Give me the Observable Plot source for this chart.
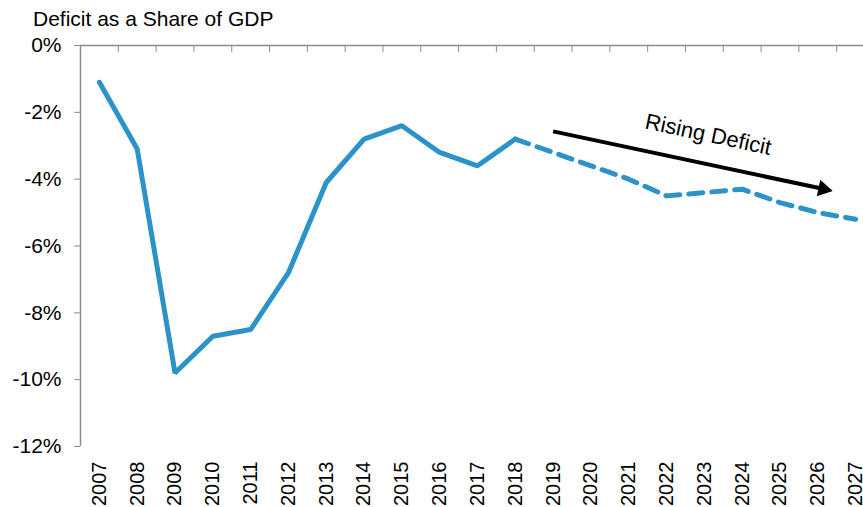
<!DOCTYPE html>
<html>
<head>
<meta charset="utf-8">
<script src="https://cdn.jsdelivr.net/npm/d3@7"></script>
<script src="https://cdn.jsdelivr.net/npm/@observablehq/plot@0.6"></script>
<style>
  body { margin: 0; background: #fff; font-family: "Liberation Sans", Arial, sans-serif; }
  #wrap { position: relative; width: 863px; height: 507px; overflow: hidden; }
  #title { position: absolute; left: 33px; top: 7px; font-size: 21px; line-height: 24px; color: #000; white-space: nowrap; }
</style>
</head>
<body>
<div id="wrap">
  <div id="title">Deficit as a Share of GDP</div>
  <div id="chart"></div>
</div>
<script>
// Federal deficit as a percent of GDP, actual through 2018 and projected after
const years = [2007, 2008, 2009, 2010, 2011, 2012, 2013, 2014, 2015, 2016, 2017,
               2018, 2019, 2020, 2021, 2022, 2023, 2024, 2025, 2026, 2027];
const deficit = [-1.1, -3.1, -9.8, -8.7, -8.5, -6.8, -4.1, -2.8, -2.4, -3.2, -3.6,
                 -2.8, -3.2, -3.6, -4.0, -4.5, -4.4, -4.3, -4.7, -5.0, -5.2];
const lastActual = 2018;
const yTicks = [0, -2, -4, -6, -8, -10, -12];

// Trend arrow annotation (data units)
const trend = [{x1: 2019, y1: -2.57, x2: 2026.3, y2: -4.33, label: "Rising Deficit"}];

const data = years.map((year, i) => ({year, value: deficit[i]}));
const actual = data.filter(d => d.year <= lastActual);
const projected = data.filter(d => d.year >= lastActual);

const blue = "#2b93c8";
const grey = "#8c8c8c";
const W = 863, H = 507;
const frameLeft = 80, frameTop = 45, frameBottom = 446, frameRight = 874;
const xDomain = [years[0] - 0.5, years[years.length - 1] + 0.5];
const bounds = d3.range(xDomain[0], xDomain[1] + 0.01, 1);

// screen angle of the trend arrow
const pxPerYear = (frameRight - frameLeft) / (xDomain[1] - xDomain[0]);
const pxPerPct = (frameBottom - frameTop) / 12;
const tr = trend[0];
const angle = Math.atan2((tr.y1 - tr.y2) * pxPerPct, (tr.x2 - tr.x1) * pxPerYear) * 180 / Math.PI;
const rad = angle * Math.PI / 180;
// shaft stops short of the tip so the head stays pointed
const back = 9;

const chart = Plot.plot({
  width: W,
  height: H,
  marginTop: frameTop,
  marginBottom: H - frameBottom,
  marginLeft: frameLeft,
  marginRight: 0,
  style: {fontFamily: "'Liberation Sans', Arial, sans-serif", fontSize: "21px", color: "#000", background: "#fff"},
  x: {type: "linear", domain: xDomain, range: [frameLeft, frameRight]},
  y: {domain: [-12, 0]},
  marks: [
    Plot.ruleY([0], {stroke: grey, strokeWidth: 1.5}),
    Plot.ruleX([xDomain[0]], {y1: -12, y2: 0, stroke: grey, strokeWidth: 1.5}),
    Plot.axisY({ticks: yTicks, tickFormat: d => d + "%", tickSize: 6, tickPadding: 13,
                stroke: grey, fill: "#000", label: null, fontSize: 21}),
    Plot.axisX({anchor: "top", ticks: bounds, tickSize: -6, tickFormat: () => "",
                stroke: grey, label: null}),
    Plot.axisX({anchor: "bottom", ticks: years, tickFormat: d => String(d), tickSize: 0,
                tickPadding: 15, tickRotate: -90, label: null, fontSize: 20, fill: "#000"}),
    Plot.line(actual, {x: "year", y: "value", stroke: blue, strokeWidth: 5, strokeLinejoin: "miter"}),
    Plot.line(projected, {x: "year", y: "value", stroke: blue, strokeWidth: 5,
                          strokeDasharray: "14,9", strokeLinecap: "round"}),
    Plot.link(trend, {x1: "x1", y1: "y1",
                      x2: d => d.x2 - back * Math.cos(rad) / pxPerYear,
                      y2: d => d.y2 + back * Math.sin(rad) / pxPerPct,
                      stroke: "#000", strokeWidth: 4}),
    Plot.dot(trend, {x: "x2", y: "y2", symbol: "triangle2", r: 8, fill: "#000", stroke: "none",
                     rotate: 90 + angle, dx: -6 * Math.cos(rad), dy: -6 * Math.sin(rad)}),
    Plot.text(trend, {x: d => (d.x1 + d.x2) / 2 + 0.45, y: d => (d.y1 + d.y2) / 2 + 0.78,
                      text: "label", rotate: angle, fontSize: 22, fill: "#000"})
  ]
});
document.getElementById("chart").appendChild(chart);
</script>
</body>
</html>
